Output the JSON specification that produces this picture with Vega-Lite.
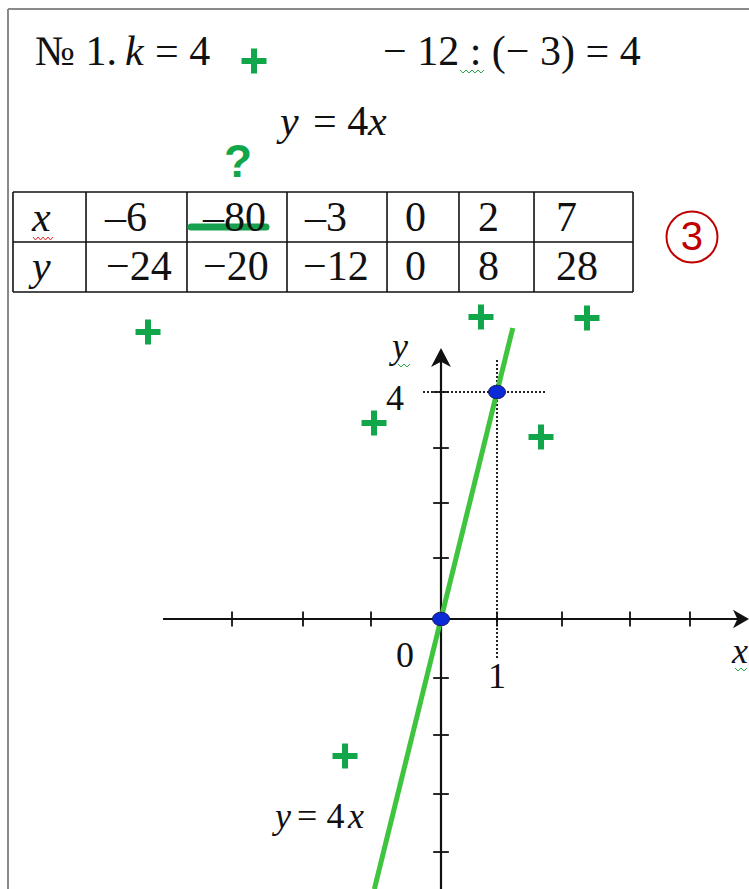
{
  "$schema": "https://vega.github.io/schema/vega-lite/v6.json",
  "width": 749,
  "height": 889,
  "autosize": "none",
  "padding": 0,
  "background": "white",
  "config": {"view": {"stroke": null}},
  "datasets": {
    "border": [
      {"x": -7.732, "y": 10.749, "x2": 5.5, "y2": 10.749},
      {"x": -7.732, "y": 10.749, "x2": -7.732, "y2": -4.7577}
    ],
    "grid": [
      {"x": -7.643, "y": 7.524, "x2": 3.429, "y2": 7.524},
      {"x": -7.643, "y": 6.643, "x2": 3.429, "y2": 6.643},
      {"x": -7.643, "y": 5.762, "x2": 3.429, "y2": 5.762},
      {"x": -7.643, "y": 7.524, "x2": -7.643, "y2": 5.762},
      {"x": -6.339, "y": 7.524, "x2": -6.339, "y2": 5.762},
      {"x": -4.536, "y": 7.524, "x2": -4.536, "y2": 5.762},
      {"x": -2.75, "y": 7.524, "x2": -2.75, "y2": 5.762},
      {"x": -0.964, "y": 7.524, "x2": -0.964, "y2": 5.762},
      {"x": 0.321, "y": 7.524, "x2": 0.321, "y2": 5.762},
      {"x": 1.661, "y": 7.524, "x2": 1.661, "y2": 5.762},
      {"x": 3.429, "y": 7.524, "x2": 3.429, "y2": 5.762}
    ],
    "axes": [
      {"x": -4.964, "y": 0, "x2": 5.3, "y2": 0},
      {"x": 0, "y": -4.7577, "x2": 0, "y2": 4.55}
    ],
    "ticks": [
      {"x": -3.732, "y": -0.132, "x2": -3.732, "y2": 0.132},
      {"x": -2.464, "y": -0.132, "x2": -2.464, "y2": 0.132},
      {"x": -1.25, "y": -0.132, "x2": -1.25, "y2": 0.132},
      {"x": 1, "y": -0.132, "x2": 1, "y2": 0.132},
      {"x": 2.161, "y": -0.132, "x2": 2.161, "y2": 0.132},
      {"x": 3.375, "y": -0.132, "x2": 3.375, "y2": 0.132},
      {"x": 4.446, "y": -0.132, "x2": 4.446, "y2": 0.132},
      {"x": -0.14, "y": 4.0, "x2": 0.14, "y2": 4.0},
      {"x": -0.14, "y": 3.013, "x2": 0.14, "y2": 3.013},
      {"x": -0.14, "y": 2.044, "x2": 0.14, "y2": 2.044},
      {"x": -0.14, "y": 1.075, "x2": 0.14, "y2": 1.075},
      {"x": -0.14, "y": -1.04, "x2": 0.14, "y2": -1.04},
      {"x": -0.14, "y": -2.044, "x2": 0.14, "y2": -2.044},
      {"x": -0.14, "y": -3.084, "x2": 0.14, "y2": -3.084},
      {"x": -0.14, "y": -4.106, "x2": 0.14, "y2": -4.106}
    ],
    "guides": [
      {"x": -0.321, "y": 4, "x2": 1.857, "y2": 4},
      {"x": 1, "y": 4.564, "x2": 1, "y2": -0.722}
    ],
    "arrowX": [{"x": 5.357, "y": 0}],
    "arrowY": [{"x": 0, "y": 4.608}],
    "fn": [
      {"x": -1.19, "y": -4.76},
      {"x": 1.282, "y": 5.128}
    ],
    "dots": [
      {"x": 0, "y": 0},
      {"x": 1, "y": 4}
    ],
    "strike": [{"x": -4.464, "y": 6.907, "x2": -3.125, "y2": 6.907}],
    "redWave": [
      {"x": -7.286, "y": 6.731}, {"x": -7.241, "y": 6.678}, {"x": -7.196, "y": 6.731},
      {"x": -7.152, "y": 6.678}, {"x": -7.107, "y": 6.731}, {"x": -7.063, "y": 6.678},
      {"x": -7.018, "y": 6.731}, {"x": -6.973, "y": 6.678}, {"x": -6.929, "y": 6.731}
    ],
    "greenWave": [
      {"id": 1, "x": 0.339, "y": 9.674}, {"id": 1, "x": 0.393, "y": 9.621}, {"id": 1, "x": 0.446, "y": 9.674},
      {"id": 1, "x": 0.5, "y": 9.621}, {"id": 1, "x": 0.554, "y": 9.674}, {"id": 1, "x": 0.607, "y": 9.621},
      {"id": 1, "x": 0.661, "y": 9.674}, {"id": 1, "x": 0.714, "y": 9.621}, {"id": 1, "x": 0.768, "y": 9.674},
      {"id": 2, "x": -0.768, "y": 4.493}, {"id": 2, "x": -0.714, "y": 4.441}, {"id": 2, "x": -0.661, "y": 4.493},
      {"id": 2, "x": -0.607, "y": 4.441}, {"id": 2, "x": -0.554, "y": 4.493},
      {"id": 3, "x": 5.25, "y": -0.863}, {"id": 3, "x": 5.304, "y": -0.916}, {"id": 3, "x": 5.357, "y": -0.863},
      {"id": 3, "x": 5.411, "y": -0.916}, {"id": 3, "x": 5.464, "y": -0.863}
    ],
    "pluses": [
      {"x": -3.339, "y": 9.833},
      {"x": -5.232, "y": 5.057},
      {"x": 0.714, "y": 5.322},
      {"x": 2.607, "y": 5.304},
      {"x": -1.196, "y": 3.454},
      {"x": 1.786, "y": 3.207},
      {"x": -1.714, "y": -2.414}
    ],
    "score": [{"x": 4.482, "y": 6.731, "ty": 6.51, "t": "3"}],
    "question": [{"x": -3.625, "y": 7.789, "t": "?"}],
    "bigText": [
      {"t": "№ 1.", "x": -7.25, "y": 9.762},
      {"t": "= 4", "x": -5.107, "y": 9.762},
      {"t": "− 12 : (− 3) = 4", "x": -1.036, "y": 9.762},
      {"t": "= 4", "x": -2.286, "y": 8.529},
      {"t": "–6", "x": -6.0, "y": 6.837},
      {"t": "–80", "x": -4.25, "y": 6.837},
      {"t": "–3", "x": -2.429, "y": 6.837},
      {"t": "0", "x": -0.643, "y": 6.837},
      {"t": "2", "x": 0.661, "y": 6.837},
      {"t": "7", "x": 2.054, "y": 6.837},
      {"t": "−24", "x": -5.982, "y": 5.974},
      {"t": "−20", "x": -4.25, "y": 5.974},
      {"t": "−12", "x": -2.464, "y": 5.974},
      {"t": "0", "x": -0.643, "y": 5.974},
      {"t": "8", "x": 0.661, "y": 5.974},
      {"t": "28", "x": 2.054, "y": 5.974}
    ],
    "bigItalic": [
      {"t": "k", "x": -5.643, "y": 9.762},
      {"t": "y", "x": -2.875, "y": 8.529},
      {"t": "x", "x": -1.304, "y": 8.529},
      {"t": "x", "x": -7.304, "y": 6.837},
      {"t": "y", "x": -7.304, "y": 5.974}
    ],
    "graphText": [
      {"t": "4", "x": -0.982, "y": 3.683},
      {"t": "0", "x": -0.804, "y": -0.846},
      {"t": "1", "x": 0.839, "y": -1.216},
      {"t": "= 4", "x": -2.57, "y": -3.683}
    ],
    "graphItalic": [
      {"t": "y", "x": -0.875, "y": 4.599},
      {"t": "x", "x": 5.196, "y": -0.775},
      {"t": "y", "x": -2.964, "y": -3.683},
      {"t": "x", "x": -1.66, "y": -3.683}
    ]
  },
  "encoding": {
    "x": {"field": "x", "type": "quantitative", "axis": null, "scale": {"domain": [-7.875, 5.5], "nice": false, "zero": false}},
    "y": {"field": "y", "type": "quantitative", "axis": null, "scale": {"domain": [-4.7577, 10.9075], "nice": false, "zero": false}}
  },
  "layer": [
    {
      "data": {"name": "border"},
      "mark": {"type": "rule", "color": "#8a8a8a", "strokeWidth": 2},
      "encoding": {"x2": {"field": "x2"}, "y2": {"field": "y2"}}
    },
    {
      "data": {"name": "grid"},
      "mark": {"type": "rule", "color": "#111111", "strokeWidth": 1.6},
      "encoding": {"x2": {"field": "x2"}, "y2": {"field": "y2"}}
    },
    {
      "data": {"name": "guides"},
      "mark": {"type": "rule", "color": "#222222", "strokeWidth": 2, "strokeDash": [2, 2]},
      "encoding": {"x2": {"field": "x2"}, "y2": {"field": "y2"}}
    },
    {
      "data": {"name": "axes"},
      "mark": {"type": "rule", "color": "#111111", "strokeWidth": 2.2},
      "encoding": {"x2": {"field": "x2"}, "y2": {"field": "y2"}}
    },
    {
      "data": {"name": "ticks"},
      "mark": {"type": "rule", "color": "#111111", "strokeWidth": 1.8},
      "encoding": {"x2": {"field": "x2"}, "y2": {"field": "y2"}}
    },
    {
      "data": {"name": "arrowX"},
      "mark": {"type": "point", "filled": true, "color": "#111111", "opacity": 1, "size": 256, "shape": "M1,0 L-1,-1.15 L-0.45,0 L-1,1.15 Z"}
    },
    {
      "data": {"name": "arrowY"},
      "mark": {"type": "point", "filled": true, "color": "#111111", "opacity": 1, "size": 361, "shape": "M0,-1 L-1.05,1 L0,0.45 L1.05,1 Z"}
    },
    {
      "data": {"name": "fn"},
      "mark": {"type": "line", "color": "#3ec43e", "strokeWidth": 5}
    },
    {
      "data": {"name": "dots"},
      "mark": {"type": "point", "filled": true, "fill": "#0a2ad8", "stroke": "#14145a", "strokeWidth": 1, "opacity": 1, "size": 200, "shape": "M-1.2,0 A1.2,0.95 0 1,0 1.2,0 A1.2,0.95 0 1,0 -1.2,0 Z"}
    },
    {
      "data": {"name": "strike"},
      "mark": {"type": "rule", "color": "#17a04d", "strokeWidth": 7, "strokeCap": "round"},
      "encoding": {"x2": {"field": "x2"}, "y2": {"field": "y2"}}
    },
    {
      "data": {"name": "redWave"},
      "mark": {"type": "line", "color": "#e02424", "strokeWidth": 1}
    },
    {
      "data": {"name": "greenWave"},
      "mark": {"type": "line", "color": "#2aa84a", "strokeWidth": 1},
      "encoding": {"detail": {"field": "id", "type": "nominal"}, "order": {"field": "x", "type": "quantitative"}}
    },
    {
      "data": {"name": "pluses"},
      "mark": {"type": "point", "filled": true, "color": "#12a64b", "opacity": 1, "size": 625, "shape": "M-1,-0.24 L-0.24,-0.24 L-0.24,-1 L0.24,-1 L0.24,-0.24 L1,-0.24 L1,0.24 L0.24,0.24 L0.24,1 L-0.24,1 L-0.24,0.24 L-1,0.24 Z"}
    },
    {
      "data": {"name": "score"},
      "mark": {"type": "point", "filled": false, "stroke": "#c00000", "strokeWidth": 2, "opacity": 1, "size": 2601, "shape": "circle"}
    },
    {
      "data": {"name": "score"},
      "mark": {"type": "text", "font": "Liberation Sans", "fontSize": 40, "color": "#c00000", "align": "center", "baseline": "alphabetic"},
      "encoding": {"y": {"field": "ty", "type": "quantitative"}, "text": {"field": "t"}}
    },
    {
      "data": {"name": "question"},
      "mark": {"type": "text", "font": "Liberation Sans", "fontSize": 46, "fontWeight": "bold", "color": "#12a64b", "align": "center", "baseline": "alphabetic"},
      "encoding": {"text": {"field": "t"}}
    },
    {
      "data": {"name": "bigText"},
      "mark": {"type": "text", "font": "Liberation Serif", "fontSize": 42, "color": "#111111", "align": "left", "baseline": "alphabetic"},
      "encoding": {"text": {"field": "t"}}
    },
    {
      "data": {"name": "bigItalic"},
      "mark": {"type": "text", "font": "Liberation Serif", "fontSize": 42, "fontStyle": "italic", "color": "#111111", "align": "left", "baseline": "alphabetic"},
      "encoding": {"text": {"field": "t"}}
    },
    {
      "data": {"name": "graphText"},
      "mark": {"type": "text", "font": "Liberation Serif", "fontSize": 36, "color": "#111111", "align": "left", "baseline": "alphabetic"},
      "encoding": {"text": {"field": "t"}}
    },
    {
      "data": {"name": "graphItalic"},
      "mark": {"type": "text", "font": "Liberation Serif", "fontSize": 36, "fontStyle": "italic", "color": "#111111", "align": "left", "baseline": "alphabetic"},
      "encoding": {"text": {"field": "t"}}
    }
  ]
}
